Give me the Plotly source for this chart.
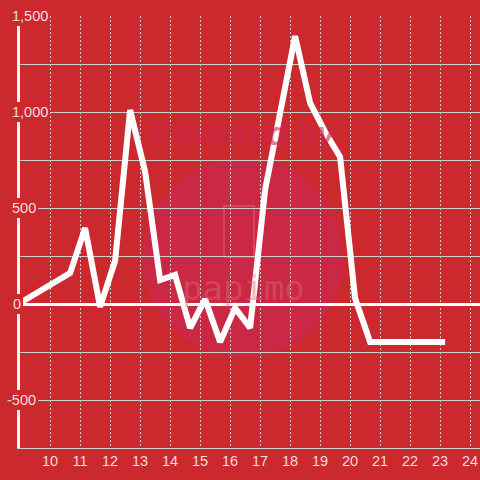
import plotly.graph_objects as go

# ---- data ----
hours = [9.0, 10.67, 11.17, 11.67, 12.17, 12.67, 13.17, 13.67, 14.17, 14.67,
         15.17, 15.67, 16.17, 16.67, 17.17, 17.67, 18.17, 18.67, 19.17, 19.67,
         20.17, 20.67, 21.17, 21.67, 22.17, 22.67, 23.17]
values = [5, 161, 396, -15, 225, 1010, 690, 125, 152, -125,
          25, -198, -20, -125, 594, 995, 1395, 1047, 896, 766,
          30, -198, -198, -198, -198, -198, -198]
x_ticks = list(range(10, 25))
y_ticks = [1500, 1000, 500, 0, -500]
y_tick_text = ["1,500", "1,000", "500", "0", "-500"]

BG = "#cc292e"
GRID = "#cfcfcf"
TXT = "#f3dcdc"
WM = "rgba(228,105,125,0.45)"


def px_x(p):
    return (p - 20) / 460


def px_y(p):
    return (448 - p) / 432


fig = go.Figure()
fig.add_trace(go.Scatter(
    x=hours, y=values, mode="lines",
    line=dict(color="white", width=6),
    hoverinfo="skip", showlegend=False,
))

# y tick labels as annotations with background (cover axis/grid)
label_left_px = {1500: 7, 1000: 7, 500: 7, 0: 8, -500: 2}
ann = []
for v, t in zip(y_ticks, y_tick_text):
    left = label_left_px[v] + 3
    ann.append(dict(
        x=px_x(left), xref="paper", xanchor="left",
        y=v, yref="y", yanchor="middle",
        text=t, showarrow=False, bgcolor=BG, borderpad=2, borderwidth=0,
        font=dict(family="Liberation Sans, Arial, sans-serif", size=14.5, color=TXT),
    ))
# watermark texts
ann.append(dict(
    x=px_x(243), xref="paper", xanchor="center",
    y=px_y(133), yref="paper", yanchor="middle",
    text="<b><i>Powered by</i></b>", showarrow=False,
    font=dict(family="Liberation Sans, Arial, sans-serif", size=33,
              color="rgba(205,35,80,0.6)"),
))
ann.append(dict(
    x=px_x(243), xref="paper", xanchor="center",
    y=px_y(288), yref="paper", yanchor="middle",
    text="papimo", showarrow=False,
    font=dict(family="DejaVu Sans Mono, monospace", size=34, color=WM),
))

fig.update_layout(
    width=480, height=480,
    margin=dict(l=20, r=0, t=16, b=32),
    paper_bgcolor=BG, plot_bgcolor=BG,
    annotations=ann,
    shapes=[
        dict(type="circle", xref="paper", yref="paper",
             x0=px_x(142), x1=px_x(344), y0=px_y(357), y1=px_y(158),
             fillcolor="rgba(200,40,95,0.45)", line=dict(width=0), layer="below"),
        dict(type="rect", xref="paper", yref="paper",
             x0=px_x(224), x1=px_x(254), y0=px_y(257), y1=px_y(206),
             fillcolor="rgba(0,0,0,0)", line=dict(color=WM, width=2), layer="below"),
    ],
    xaxis=dict(
        range=[9, 24.3333], tickvals=x_ticks, ticks="",
        showgrid=True, gridcolor=GRID, gridwidth=1, griddash="2px,2px",
        showline=True, linecolor=GRID, linewidth=1,
        zeroline=False,
        tickfont=dict(family="Liberation Sans, Arial, sans-serif", size=14.5, color=TXT),
        fixedrange=True,
    ),
    yaxis=dict(
        range=[-750, 1500], tickvals=[1500, 1250, 1000, 750, 500, 250, 0, -250, -500, -750],
        showticklabels=False, ticks="",
        showgrid=True, gridcolor=GRID, gridwidth=1,
        zeroline=True, zerolinecolor="white", zerolinewidth=3,
        showline=True, linecolor="#f2f2f2", linewidth=3,
        fixedrange=True,
    ),
)

fig.write_html("out.html", config={"displayModeBar": False},
               post_script="document.body.style.margin='0';document.body.style.overflow='hidden';")
